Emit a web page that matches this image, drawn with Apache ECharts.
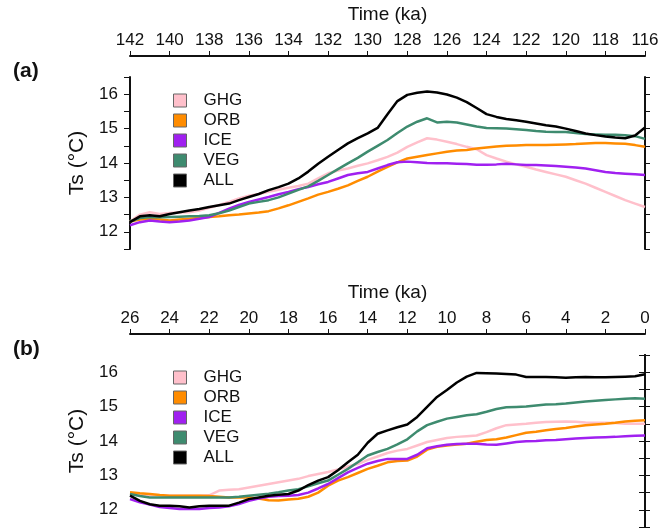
<!DOCTYPE html>
<html>
<head>
<meta charset="utf-8">
<script src="https://cdn.jsdelivr.net/npm/echarts@6/dist/echarts.min.js"></script>
<style>
html,body{margin:0;padding:0;background:#fff;}
#chart{width:672px;height:529px;}
</style>
</head>
<body>
<div id="chart"></div>
<script>
// ---- Panel (a): 142-116 ka ----
var agesA = [142,141.5,141,140.5,140,139.5,139,138.5,138,137.5,137,136.5,136,135.5,135,134.5,134,133.5,133,132.5,132,131.5,131,130.5,130,129.5,129,128.5,128,127.5,127,126.5,126,125.5,125,124.5,124,123.5,123,122.5,122,121.5,121,120.5,120,119.5,119,118.5,118,117.5,117,116.5,116];
var ghgA = [12.30,12.50,12.57,12.52,12.55,12.56,12.57,12.62,12.70,12.78,12.87,12.97,13.05,13.10,13.16,13.22,13.28,13.33,13.40,13.55,13.70,13.78,13.84,13.92,13.99,14.08,14.18,14.30,14.47,14.60,14.72,14.68,14.62,14.55,14.47,14.40,14.23,14.13,14.04,13.96,13.89,13.81,13.74,13.67,13.60,13.50,13.40,13.28,13.16,13.04,12.92,12.82,12.72];
var orbA = [12.30,12.36,12.38,12.36,12.33,12.36,12.38,12.40,12.43,12.45,12.48,12.50,12.53,12.56,12.60,12.68,12.77,12.87,12.97,13.08,13.16,13.25,13.35,13.48,13.60,13.75,13.89,14.02,14.13,14.18,14.23,14.28,14.33,14.36,14.38,14.42,14.45,14.48,14.50,14.51,14.52,14.52,14.52,14.53,14.54,14.55,14.57,14.58,14.58,14.57,14.56,14.52,14.47];
var iceA = [12.19,12.28,12.33,12.30,12.28,12.30,12.33,12.38,12.43,12.55,12.67,12.78,12.87,12.94,13.01,13.09,13.16,13.24,13.30,13.38,13.45,13.55,13.65,13.70,13.74,13.84,13.94,14.02,14.04,14.02,14.00,13.99,13.99,13.98,13.97,13.95,13.95,13.96,13.98,13.96,13.94,13.94,13.93,13.91,13.89,13.87,13.84,13.79,13.74,13.71,13.69,13.67,13.65];
var vegA = [12.30,12.40,12.43,12.42,12.43,12.44,12.45,12.46,12.48,12.54,12.62,12.72,12.82,12.87,12.92,13.00,13.11,13.22,13.32,13.48,13.65,13.82,13.99,14.15,14.33,14.50,14.67,14.87,15.06,15.20,15.30,15.18,15.20,15.18,15.12,15.06,15.02,15.01,15.00,14.98,14.96,14.93,14.91,14.90,14.90,14.87,14.84,14.83,14.82,14.82,14.81,14.78,14.70];
var allA = [12.28,12.45,12.48,12.45,12.52,12.57,12.62,12.66,12.72,12.77,12.82,12.92,13.01,13.10,13.21,13.30,13.40,13.55,13.75,13.98,14.18,14.38,14.57,14.72,14.86,15.02,15.42,15.80,15.98,16.04,16.08,16.05,15.99,15.90,15.77,15.60,15.42,15.34,15.28,15.24,15.20,15.15,15.10,15.06,15.00,14.93,14.86,14.81,14.77,14.74,14.72,14.80,15.03];

// ---- Panel (b): 26-0 ka ----
var agesB = [26,25.5,25,24.5,24,23.5,23,22.5,22,21.5,21,20.5,20,19.5,19,18.5,18,17.5,17,16.5,16,15.5,15,14.5,14,13.5,13,12.5,12,11.5,11,10.5,10,9.5,9,8.5,8,7.5,7,6.5,6,5.5,5,4.5,4,3.5,3,2.5,2,1.5,1,0.5,0];
var ghgB = [12.46,12.44,12.43,12.42,12.41,12.41,12.41,12.41,12.42,12.56,12.58,12.60,12.65,12.70,12.75,12.80,12.85,12.90,12.98,13.04,13.10,13.17,13.26,13.33,13.45,13.55,13.65,13.72,13.77,13.87,13.97,14.03,14.09,14.12,14.14,14.16,14.26,14.37,14.46,14.48,14.50,14.53,14.55,14.56,14.57,14.56,14.54,14.53,14.53,14.52,14.50,14.50,14.50];
var orbB = [12.51,12.48,12.46,12.43,12.41,12.41,12.41,12.41,12.40,12.38,12.36,12.36,12.36,12.33,12.28,12.27,12.30,12.32,12.38,12.50,12.70,12.85,12.95,13.07,13.19,13.28,13.38,13.42,13.43,13.55,13.75,13.83,13.87,13.90,13.92,13.98,14.03,14.05,14.10,14.17,14.24,14.27,14.31,14.35,14.38,14.42,14.46,14.48,14.50,14.53,14.57,14.59,14.60];
var iceB = [12.31,12.22,12.15,12.08,12.05,12.02,12.02,12.02,12.05,12.07,12.10,12.17,12.26,12.33,12.38,12.40,12.41,12.43,12.50,12.62,12.75,12.92,13.09,13.22,13.34,13.42,13.48,13.48,13.48,13.60,13.79,13.85,13.89,13.91,13.92,13.92,13.90,13.89,13.93,13.97,13.99,14.00,14.02,14.03,14.05,14.07,14.09,14.10,14.11,14.12,14.14,14.15,14.16];
var vegB = [12.46,12.40,12.36,12.36,12.36,12.36,12.36,12.36,12.36,12.36,12.36,12.38,12.41,12.44,12.47,12.51,12.56,12.60,12.68,12.77,12.85,13.02,13.19,13.38,13.58,13.68,13.77,13.90,14.05,14.28,14.46,14.56,14.65,14.70,14.75,14.78,14.85,14.93,14.98,14.99,15.00,15.03,15.06,15.07,15.09,15.12,15.15,15.17,15.19,15.21,15.23,15.24,15.23];
var allB = [12.41,12.26,12.16,12.12,12.12,12.10,12.07,12.10,12.12,12.12,12.12,12.21,12.31,12.36,12.41,12.44,12.46,12.56,12.72,12.85,12.95,13.15,13.38,13.60,13.95,14.21,14.31,14.40,14.48,14.70,14.99,15.28,15.48,15.70,15.87,15.98,15.97,15.96,15.95,15.93,15.86,15.86,15.86,15.85,15.84,15.85,15.86,15.85,15.85,15.86,15.87,15.88,15.94];

var names = ['GHG','ORB','ICE','VEG','ALL'];
var colors = ['#FFC0CB','#FF8C00','#A020F0','#3E8B6F','#000000'];
var tickLabelsA = ['142','140','138','136','134','132','130','128','126','124','122','120','118','116'];
var tickLabelsB = ['26','24','22','20','18','16','14','12','10','8','6','4','2','0'];

var FONT = '"Liberation Sans", Arial, Helvetica, sans-serif';
var chart = echarts.init(document.getElementById('chart'), null, {renderer:'canvas'});

function pairs(ages, vals){ return ages.map(function(t,i){ return [t, vals[i]]; }); }

var setsA = [ghgA, orbA, iceA, vegA, allA];
var setsB = [ghgB, orbB, iceB, vegB, allB];

function xAxisCfg(gi, min, max){
  return {
    gridIndex: gi, type:'value', position:'top', offset:21, inverse:true,
    min:min, max:max, interval:2,
    name:'Time (ka)', nameLocation:'middle', nameGap:32,
    nameTextStyle:{fontFamily:FONT, fontSize:19, color:'#111'},
    axisLine:{show:true, lineStyle:{color:'#111', width:2}},
    axisTick:{show:true, inside:false, length:5, lineStyle:{color:'#111', width:1}},
    axisLabel:{fontFamily:FONT, fontSize:17, color:'#111', margin:7},
    splitLine:{show:false}
  };
}
function yAxisLeft(gi){
  return {
    gridIndex: gi, type:'value', position:'left', min:11.5, max:16.5, interval:0.5,
    name:'Ts (\u00B0C)', nameLocation:'middle', nameGap:24,
    nameTextStyle:{fontFamily:FONT, fontSize:21, color:'#111'},
    axisLine:{show:true, lineStyle:{color:'#111', width:2}},
    axisTick:{show:true, inside:false, length:6, lineStyle:{color:'#111', width:1}},
    axisLabel:{fontFamily:FONT, fontSize:17, color:'#111', margin:12,
      formatter:function(v){ return (Math.abs(v - Math.round(v)) < 1e-6 && v>11.9 && v<16.1) ? String(Math.round(v)) : ''; }},
    splitLine:{show:false}
  };
}
function yAxisRight(gi){
  return {
    gridIndex: gi, type:'value', position:'right', min:11.5, max:16.5, interval:0.5,
    axisLine:{show:true, lineStyle:{color:'#111', width:2}},
    axisTick:{show:true, inside:false, length:5, lineStyle:{color:'#111', width:1}},
    axisLabel:{show:false},
    splitLine:{show:false}
  };
}

var series = [];
names.forEach(function(n,k){
  series.push({name:n, type:'line', xAxisIndex:0, yAxisIndex:0, data:pairs(agesA, setsA[k]),
    showSymbol:false, lineStyle:{color:colors[k], width:2.5}, itemStyle:{color:colors[k]}, z:2+k});
});
names.forEach(function(n,k){
  series.push({name:n, type:'line', xAxisIndex:1, yAxisIndex:2, data:pairs(agesB, setsB[k]),
    showSymbol:false, lineStyle:{color:colors[k], width:2.5}, itemStyle:{color:colors[k]}, z:2+k});
});

function legendCfg(top){
  return {
    show:true, orient:'vertical', left:173, top:top, itemWidth:13, itemHeight:13, itemGap:3,
    icon:'rect', selectedMode:false, padding:0,
    data: names.map(function(n,k){ return {name:n, itemStyle:{color:colors[k], borderColor:'#666', borderWidth:1}}; }),
    textStyle:{fontFamily:FONT, fontSize:17, color:'#111', padding:[0,0,0,12]}
  };
}

chart.setOption({
  animation:false,
  backgroundColor:'#fff',
  grid:[
    {left:130, width:515, top:77, height:172, containLabel:false},
    {left:130, width:515, top:355, height:172, containLabel:false}
  ],
  xAxis:[xAxisCfg(0,116,142), xAxisCfg(1,0,26)],
  yAxis:[yAxisLeft(0), yAxisRight(0), yAxisLeft(1), yAxisRight(1)],
  legend:[legendCfg(92), legendCfg(369)],
  graphic:[
    {type:'text', left:13, top:61, style:{text:'(a)', font:'bold 21px '+FONT, fill:'#111'}},
    {type:'text', left:13, top:339, style:{text:'(b)', font:'bold 21px '+FONT, fill:'#111'}}
  ],
  series:series
});
</script>
</body>
</html>
